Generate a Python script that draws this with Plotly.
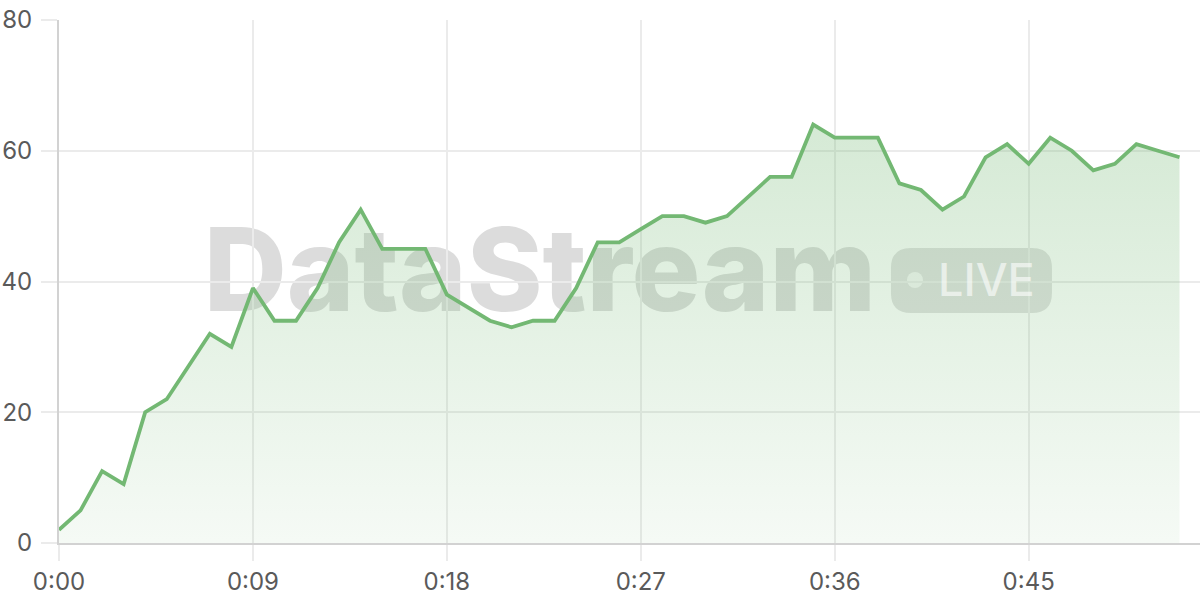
import plotly.graph_objects as go

# elapsed time index (one sample per tick) and the streamed values
steps = list(range(53))
values = [2, 5, 11, 9, 20, 22, 27, 32, 30, 39, 34, 34, 39, 46, 51, 45, 45, 45,
          38, 36, 34, 33, 34, 34, 39, 46, 46, 48, 50, 50, 49, 50, 53, 56, 56,
          64, 62, 62, 62, 55, 54, 51, 53, 59, 61, 58, 62, 60, 57, 58, 61, 60, 59]

tick_steps = [0, 9, 18, 27, 36, 45]
tick_labels = ["0:00", "0:09", "0:18", "0:27", "0:36", "0:45"]
y_ticks = [0, 20, 40, 60, 80]

GREEN = "#73b873"
GRID = "#ebebeb"
AXIS = "#d2d2d2"
FONT = dict(family="Inter", size=24, color="#5a5a5a")

fig = go.Figure()
fig.add_trace(go.Scatter(
    x=steps, y=values, mode="lines",
    line=dict(color=GREEN, width=3.8),
    fill="tozeroy",
    fillgradient=dict(
        type="vertical",
        colorscale=[[0, "rgba(115,184,115,0.07)"], [1, "rgba(115,184,115,0.30)"]],
    ),
    hoverinfo="skip", showlegend=False,
))

# watermark, drawn beneath the data
badge = ("M -60.5,-32.5 L 60.5,-32.5 Q 80.5,-32.5 80.5,-12.5 L 80.5,12.5 "
         "Q 80.5,32.5 60.5,32.5 L -60.5,32.5 Q -80.5,32.5 -80.5,12.5 "
         "L -80.5,-12.5 Q -80.5,-32.5 -60.5,-32.5 Z")

shapes = [
    dict(type="rect", xref="paper", yref="paper", x0=0.0, x1=0.843, y0=0.32, y1=0.74,
         line=dict(width=0), fillcolor="rgba(0,0,0,0)", layer="below",
         label=dict(text="DataStream", textposition="middle center",
                    font=dict(family="Inter", size=115, weight=800,
                              color="rgba(120,120,120,0.26)"))),
    dict(type="path", xref="paper", yref="paper", xsizemode="pixel", ysizemode="pixel",
         xanchor=0.7997, yanchor=0.5019, path=badge,
         line=dict(width=0), fillcolor="rgba(120,120,120,0.22)", layer="below"),
    dict(type="circle", xref="paper", yref="paper", xsizemode="pixel", ysizemode="pixel",
         xanchor=0.7502, yanchor=0.5029, x0=-8, x1=8, y0=-8, y1=8,
         line=dict(width=0), fillcolor="rgba(255,255,255,0.7)", layer="below"),
]

fig.update_layout(
    width=1200, height=600,
    margin=dict(l=59, r=0, t=20, b=57),
    paper_bgcolor="white", plot_bgcolor="white",
    shapes=shapes,
    annotations=[
        dict(text="LIVE", xref="paper", yref="paper", x=0.8129, y=0.503,
             xanchor="center", yanchor="middle",
             showarrow=False, font=dict(family="Inter", size=45, weight=500,
                                         color="rgba(255,255,255,0.6)")),
    ],
    xaxis=dict(
        range=[0, 52.95], tickvals=tick_steps, ticktext=tick_labels,
        showgrid=True, gridcolor=GRID, gridwidth=1.5,
        showline=True, linecolor=AXIS, linewidth=2,
        ticks="outside", ticklen=16, tickcolor=GRID, tickwidth=1.5,
        tickfont=FONT, zeroline=False, automargin=False,
    ),
    yaxis=dict(
        range=[0, 80], tickvals=y_ticks,
        showgrid=True, gridcolor=GRID, gridwidth=1.5,
        showline=True, linecolor=AXIS, linewidth=2,
        ticks="outside", ticklen=16, tickcolor=GRID, tickwidth=1.5,
        tickfont=FONT, zeroline=False, ticklabelstandoff=4, automargin=False,
    ),
)

# drop the default body margin so the 1200x600 figure fills the window
fig.write_html(
    "out.html",
    config={"displayModeBar": False},
    post_script="document.body.style.margin='0';document.body.style.overflow='hidden';",
)
